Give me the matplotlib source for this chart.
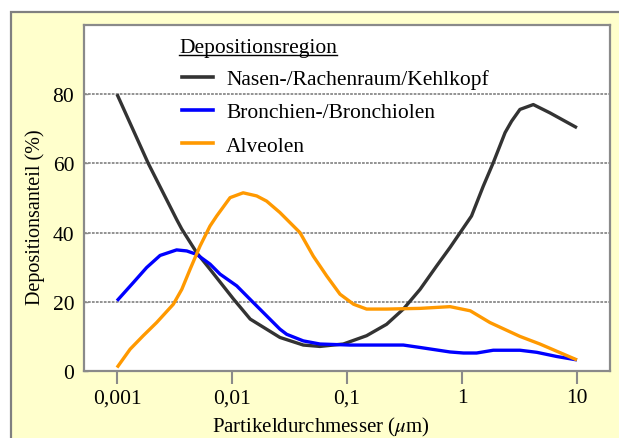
import matplotlib
matplotlib.use("Agg")
import matplotlib.pyplot as plt
from matplotlib.patches import Rectangle
from matplotlib.lines import Line2D

plt.rcParams['font.family'] = ['Liberation Serif', 'DejaVu Serif']
plt.rcParams['mathtext.fontset'] = 'stix'

# particle diameter in µm, deposition fraction in %
nasen_d = [0.001, 0.00187, 0.00330, 0.00366, 0.00493, 0.00644, 0.0103, 0.0144,
           0.0261, 0.0417, 0.0582, 0.0929, 0.148, 0.221, 0.309, 0.432, 0.603,
           0.787, 1.03, 1.21, 1.53, 1.87, 2.37, 2.70, 3.19, 4.17, 5.82, 7.87, 10]
nasen_v = [80, 60, 43.8, 41, 34.2, 29.4, 20.8, 15, 9.7, 7.5, 7.1, 7.8, 10.2,
           13.5, 17.9, 23.6, 30.4, 35.7, 41.4, 44.8, 53.4, 60.2, 68.9, 72.2,
           75.6, 77.0, 74.6, 72.2, 70.3]

bron_d = [0.001, 0.00139, 0.00181, 0.00237, 0.00330, 0.00404, 0.00493, 0.00644,
          0.00787, 0.0110, 0.0153, 0.0261, 0.0299, 0.0417, 0.0582, 0.106, 0.309,
          0.432, 0.787, 1.03, 1.34, 1.87, 3.19, 4.47, 6.65, 10]
bron_v = [20.3, 25.6, 29.9, 33.4, 35.0, 34.7, 33.7, 30.9, 28.0, 24.6, 19.8,
          12.1, 10.6, 8.7, 7.8, 7.5, 7.5, 6.8, 5.5, 5.2, 5.2, 6.0, 6.0, 5.4,
          4.2, 3.2]

alv_d = [0.001, 0.00130, 0.00169, 0.00221, 0.00309, 0.00366, 0.00432, 0.00527,
         0.00644, 0.00736, 0.00962, 0.0125, 0.0164, 0.0200, 0.0261, 0.0390,
         0.0509, 0.0665, 0.0869, 0.114, 0.148, 0.221, 0.432, 0.787, 1.18, 1.75,
         3.19, 4.76, 10]
alv_v = [1.0, 6.3, 10.2, 14.0, 19.3, 23.6, 29.4, 36.1, 41.9, 44.8, 50.1, 51.5,
         50.6, 49.1, 45.8, 40.0, 33.2, 27.5, 22.2, 19.3, 17.9, 17.9, 18.1, 18.6,
         17.4, 14.0, 10.0, 7.8, 3.2]

labels = ['Nasen-/Rachenraum/Kehlkopf', 'Bronchien-/Bronchiolen', 'Alveolen']
colors = ['#333333', '#0000ff', '#ff9900']

x_ticks = [0.001, 0.01, 0.1, 1, 10]
x_ticklabels = ['0,001', '0,01', '0,1', '1', '10']
y_ticks = [0, 20, 40, 60, 80]
grid_levels = [20, 40, 60, 80]

W, H = 619, 439
fig = plt.figure(figsize=(W / 100, H / 100), dpi=100)
fig.patches.append(Rectangle((10.5 / W, -0.1), 1.2, (H - 12.5) / H + 0.1,
                             transform=fig.transFigure, facecolor='#ffffcc',
                             edgecolor='#808080', lw=1.6, zorder=-10))

ax = fig.add_axes([84 / W, (H - 372) / H, (610 - 84) / W, (372 - 26) / H])
ax.set_zorder(1)
ax.set_facecolor('white')
ax.set_xscale('log')
ax.set_xlim(10 ** -3.287, 10 ** 1.287)
ax.set_ylim(0, 100)

for lvl in grid_levels:
    ax.axhline(lvl, color='#8a8a8a', lw=1.3, ls=(0, (1.5, 0.7)), zorder=1)

for d, v, c in zip([nasen_d, bron_d, alv_d], [nasen_v, bron_v, alv_v], colors):
    ax.plot(d, v, color=c, lw=2.4, solid_joinstyle='round',
            solid_capstyle='butt', zorder=3, clip_on=False)

ax.set_xticks(x_ticks)
ax.set_xticklabels(x_ticklabels)
ax.xaxis.set_minor_locator(matplotlib.ticker.NullLocator())
ax.set_yticks(y_ticks)
ax.tick_params(axis='x', direction='out', length=9.5, width=1.5,
               color='#8a8a8a', pad=3, labelsize=15.5)
ax.tick_params(axis='y', direction='in', length=3, width=1,
               color='#8a8a8a', pad=7, labelsize=15.5)
for s in ax.spines.values():
    s.set_color('#8a8a8a')
    s.set_linewidth(1.6)

handles = [Line2D([], [], color=c, lw=2.6) for c in colors]
ax.legend(handles, labels, loc='upper left', frameon=False, fontsize=15.5,
          bbox_to_anchor=(181.7 / W, (H - 70) / H),
          bbox_transform=fig.transFigure, borderpad=0, borderaxespad=0,
          handlelength=1.45, handletextpad=0.62, labelspacing=0.62)

title = fig.text(179 / W, (H - 48) / H, 'Depositionsregion', fontsize=15.5,
                 ha='left', va='center')
fig.canvas.draw()
bb = title.get_window_extent()
fig.lines.append(Line2D([bb.x0 / W, bb.x1 / W], [(H - 55.5) / H] * 2,
                        transform=fig.transFigure, color='black', lw=1))

fig.text(320.5 / W, (H - 427) / H, 'Partikeldurchmesser ($\\mu$m)',
         fontsize=15, ha='center', va='center')
fig.text(35 / W, (H - 217) / H, 'Depositionsanteil (%)', fontsize=14.5,
         rotation=90, ha='center', va='center')

fig.savefig('out.png', dpi=100)
